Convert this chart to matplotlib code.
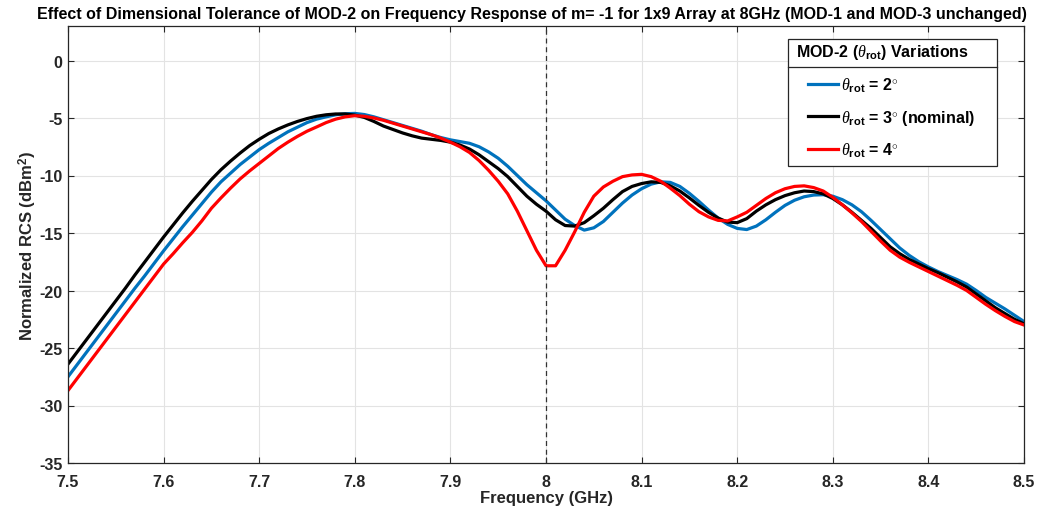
import numpy as np
import matplotlib
matplotlib.use("Agg")
import matplotlib.pyplot as plt
from matplotlib.lines import Line2D
from matplotlib.patches import Rectangle

plt.rcParams['font.family'] = ['Liberation Sans', 'DejaVu Sans']
plt.rcParams['mathtext.fontset'] = 'custom'
plt.rcParams['mathtext.rm'] = 'Liberation Sans:bold'
plt.rcParams['mathtext.bf'] = 'Liberation Sans:bold'
plt.rcParams['mathtext.it'] = 'Liberation Serif:italic'
plt.rcParams['axes.unicode_minus'] = False

freq = np.round(np.arange(7.50, 8.5001, 0.01), 2)

rcs_2deg = [
    -27.5, -26.4, -25.3, -24.2, -23.1, -22.0, -20.9, -19.8, -18.75, -17.65,
    -16.55, -15.5, -14.45, -13.45, -12.45, -11.45, -10.55, -9.8, -9.05, -8.4,
    -7.75, -7.2, -6.7, -6.2, -5.8, -5.4, -5.1, -4.9, -4.72, -4.63,
    -4.6, -4.7, -4.9, -5.15, -5.4, -5.65, -5.9, -6.15, -6.45, -6.7,
    -6.9, -7.05, -7.2, -7.5, -7.95, -8.5, -9.2, -10.0, -10.8, -11.5,
    -12.2, -13.0, -13.8, -14.35, -14.75, -14.55, -14.0, -13.2, -12.4, -11.7,
    -11.15, -10.75, -10.55, -10.6, -10.95, -11.55, -12.25, -13.0, -13.7, -14.25,
    -14.6, -14.7, -14.4, -13.85, -13.2, -12.6, -12.15, -11.85, -11.7, -11.67,
    -11.8, -12.1, -12.55, -13.15, -13.9, -14.7, -15.5, -16.3, -16.95, -17.5,
    -17.95, -18.35, -18.7, -19.05, -19.45, -20.0, -20.6, -21.1, -21.6, -22.15,
    -22.7]

rcs_3deg = [
    -26.4, -25.3, -24.2, -23.1, -22.0, -20.9, -19.8, -18.65, -17.55, -16.45,
    -15.35, -14.3, -13.25, -12.25, -11.3, -10.35, -9.5, -8.75, -8.05, -7.4,
    -6.85, -6.35, -5.95, -5.6, -5.3, -5.05, -4.85, -4.72, -4.65, -4.65,
    -4.75, -4.95, -5.3, -5.7, -6.0, -6.3, -6.55, -6.75, -6.85, -6.95,
    -7.1, -7.35, -7.7, -8.2, -8.8, -9.4, -10.1, -10.95, -11.8, -12.5,
    -13.1, -13.85, -14.35, -14.4, -14.1, -13.5, -12.85, -12.1, -11.4, -10.95,
    -10.7, -10.55, -10.6, -10.9, -11.35, -11.95, -12.6, -13.2, -13.7, -14.05,
    -14.1, -13.75, -13.1, -12.55, -12.1, -11.75, -11.5, -11.35, -11.4, -11.6,
    -12.0, -12.55, -13.2, -13.9, -14.6, -15.4, -16.2, -16.8, -17.3, -17.7,
    -18.1, -18.45, -18.85, -19.25, -19.7, -20.3, -20.9, -21.5, -22.0, -22.5,
    -22.9]

rcs_4deg = [
    -28.7, -27.6, -26.5, -25.4, -24.3, -23.2, -22.1, -21.0, -19.9, -18.8,
    -17.7, -16.8, -15.85, -14.95, -13.95, -12.85, -11.95, -11.1, -10.3, -9.6,
    -8.95, -8.3, -7.65, -7.1, -6.6, -6.15, -5.78, -5.4, -5.1, -4.9,
    -4.8, -4.85, -5.0, -5.2, -5.45, -5.7, -5.95, -6.2, -6.45, -6.75,
    -7.1, -7.5, -8.0, -8.7, -9.55, -10.5, -11.6, -13.1, -14.8, -16.5,
    -17.85, -17.85, -16.5, -14.9, -13.2, -11.8, -11.0, -10.5, -10.1, -9.95,
    -9.9, -10.1, -10.5, -11.1, -11.75, -12.5, -13.15, -13.6, -13.9, -13.95,
    -13.6, -13.2, -12.6, -12.0, -11.5, -11.15, -10.95, -10.9, -11.05, -11.35,
    -11.9, -12.55, -13.25, -14.0, -14.85, -15.7, -16.5, -17.1, -17.55, -17.95,
    -18.35, -18.75, -19.15, -19.55, -20.0, -20.6, -21.2, -21.75, -22.25, -22.7,
    -23.0]

labels = [r'$\theta_{\mathbf{rot}}$ = 2$^{\circ}$',
          r'$\theta_{\mathbf{rot}}$ = 3$^{\circ}$ (nominal)',
          r'$\theta_{\mathbf{rot}}$ = 4$^{\circ}$']
legend_title = r'MOD-2 ($\theta_{\mathbf{rot}}$) Variations'
colors = ['#0072BD', '#000000', '#FF0000']
xticks = [7.5, 7.6, 7.7, 7.8, 7.9, 8.0, 8.1, 8.2, 8.3, 8.4, 8.5]
xticklabels = ['7.5', '7.6', '7.7', '7.8', '7.9', '8', '8.1', '8.2', '8.3', '8.4', '8.5']
yticks = [-35, -30, -25, -20, -15, -10, -5, 0]

W, H = 1049, 510
fig = plt.figure(figsize=(W/100, H/100), dpi=100)
ax = fig.add_axes([68/W, 1-464/H, (1024-68)/W, (464-27)/H])

for y, lab, c in zip([rcs_2deg, rcs_3deg, rcs_4deg], labels, colors):
    ax.plot(freq, y, color=c, lw=2.3, label=lab)

ax.axvline(8.0, color='#333333', lw=0.9, ls=(0, (4, 3)))

ax.set_xlim(7.5, 8.5)
ax.set_ylim(-35, 3)
ax.set_xticks(xticks)
ax.set_xticklabels(xticklabels)
ax.set_yticks(yticks)
ax.grid(True, color='#e3e3e3', lw=0.8)
ax.set_axisbelow(True)
ax.tick_params(direction='in', top=True, right=True, length=4, width=0.8,
               color='#262626', labelsize=11.5)
ax.tick_params(axis='x', pad=8)
ax.tick_params(axis='y', pad=4)
for lab in ax.get_xticklabels() + ax.get_yticklabels():
    lab.set_fontweight('bold')
    lab.set_color('#262626')
for s in ax.spines.values():
    s.set_color('#262626')
    s.set_linewidth(0.9)

ax.set_xlabel('Frequency (GHz)', fontsize=12, fontweight='bold', labelpad=1, color='#262626')
ax.set_ylabel(r'Normalized RCS (dBm$^{\mathbf{2}}$)', fontsize=12, fontweight='bold', labelpad=0, color='#262626')

fig.text(532/W, 1-14/H,
         'Effect of Dimensional Tolerance of MOD-2 on Frequency Response of m= -1 for 1x9 Array at 8GHz (MOD-1 and MOD-3 unchanged)',
         ha='center', va='center', fontsize=11.5, fontweight='bold', color='black')

# legend box (MATLAB style with title separator)
bx0, bx1, by0, by1, ysep = 788, 997, 40, 167, 68
ax.add_patch(Rectangle((bx0/W, 1-by1/H), (bx1-bx0)/W, (by1-by0)/H, transform=fig.transFigure,
                       facecolor='white', edgecolor='#262626', lw=0.9, clip_on=False, zorder=4.5))
ax.add_line(Line2D([bx0/W, bx1/W], [1-ysep/H, 1-ysep/H], transform=fig.transFigure,
                   color='#262626', lw=0.9, clip_on=False, zorder=4.6))
ax.text(796/W, 1-53/H, legend_title, transform=fig.transFigure, ha='left', va='center',
        fontsize=11.5, fontweight='bold', color='black', zorder=6)

leg = ax.legend(loc='upper left', bbox_to_anchor=(808/W, 1-77/H),
                bbox_transform=fig.transFigure, frameon=False,
                prop={'weight': 'bold', 'size': 11.5}, handlelength=1.9,
                handletextpad=0.15, borderpad=0.0, borderaxespad=0.0, labelspacing=0.85)
leg.set_zorder(6)

fig.savefig('out.png', dpi=100)
